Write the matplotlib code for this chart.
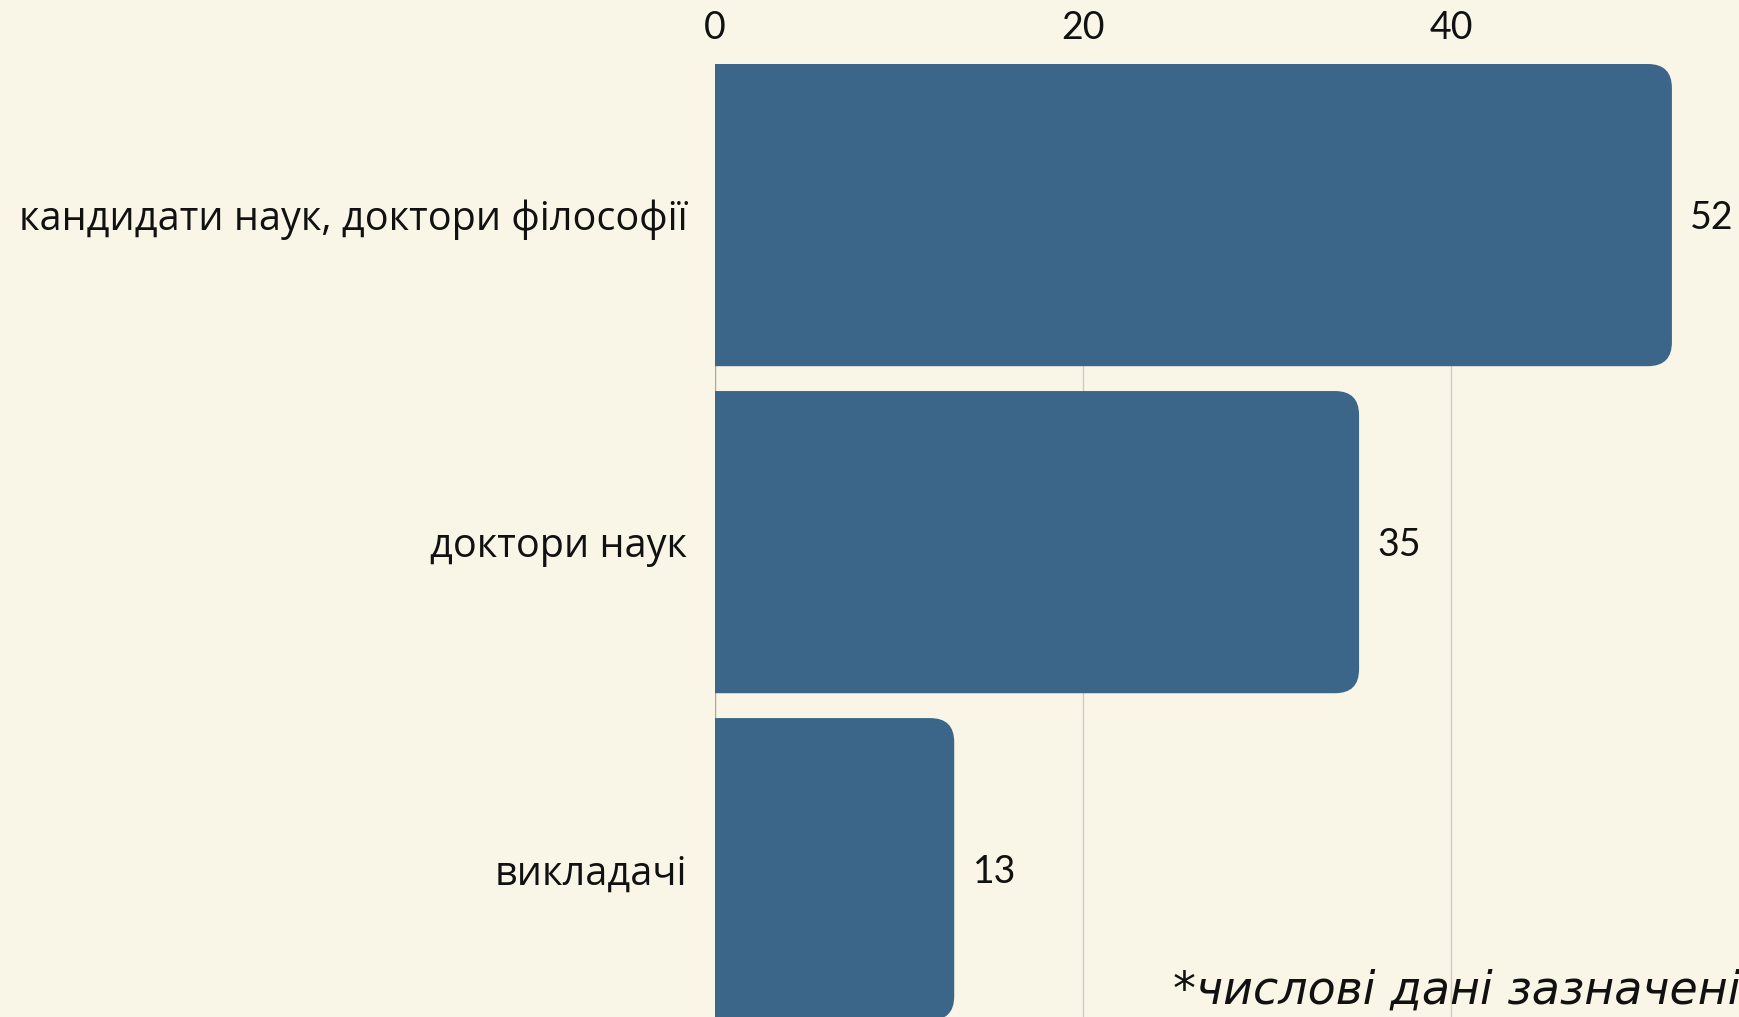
import matplotlib.pyplot as plt
from matplotlib.path import Path
from matplotlib.patches import PathPatch

categories = ["кандидати наук, доктори філософії", "доктори наук", "викладачі"]
values = [52, 35, 13]
ticks = [0, 20, 40]
note = "*числові дані зазначені у відсотках"

BG = "#F9F6E8"
BAR = "#3B6689"
GRID = "#CFCCC0"

plt.rcParams["font.family"] = ["Lato", "DejaVu Sans"]

fig = plt.figure(figsize=(17.4, 10.17), dpi=100)
fig.patch.set_facecolor(BG)
ax = fig.add_axes([715 / 1740, 0, 1025 / 1740, 953 / 1017])
ax.set_facecolor(BG)

ax.set_xlim(0, 55.7)
ax.set_ylim(2.452, -0.462)
bar_h = 0.924

# rounded corner radius in pixels, converted to data units per axis
fig.canvas.draw()
inv = ax.transData.inverted()
p0 = inv.transform(ax.transData.transform((0, 0)))
px = ax.transData.transform((0, 0))
p1 = inv.transform((px[0] + 24, px[1] - 24))
rx = abs(p1[0] - p0[0])
ry = abs(p1[1] - p0[1])

for i, v in enumerate(values):
    y0 = i - bar_h / 2
    y1 = i + bar_h / 2
    verts = [(0, y0), (v - rx, y0), (v, y0), (v, y0 + ry),
             (v, y1 - ry), (v, y1), (v - rx, y1), (0, y1), (0, y0)]
    codes = [Path.MOVETO, Path.LINETO, Path.CURVE3, Path.CURVE3,
             Path.LINETO, Path.CURVE3, Path.CURVE3, Path.LINETO, Path.CLOSEPOLY]
    ax.add_patch(PathPatch(Path(verts, codes), facecolor=BAR, edgecolor="none", zorder=3))
    ax.text(v + 1.0, i + 0.01, str(v), va="center", ha="left", fontsize=27, color="#111111")

for t in ticks:
    ax.axvline(t, color=GRID if t else "#A9A69C", lw=1, zorder=1)

ax.xaxis.tick_top()
ax.set_xticks(ticks)
ax.set_xticklabels([str(t) for t in ticks])
ax.set_yticks(range(len(categories)))
ax.set_yticklabels(categories, family=["Open Sans", "DejaVu Sans"])
ax.tick_params(axis="x", length=0, pad=13, labelsize=27, labelcolor="#111111")
ax.tick_params(axis="y", length=0, pad=20, labelsize=28.5, labelcolor="#111111")
for s in ax.spines.values():
    s.set_visible(False)

fig.text(1173 / 1740, 1 - 1004 / 1017, note, fontsize=33, style="italic",
         family=["DejaVu Sans"], color="#111111", ha="left", va="baseline")

fig.savefig("out.png", dpi=100, facecolor=BG)
